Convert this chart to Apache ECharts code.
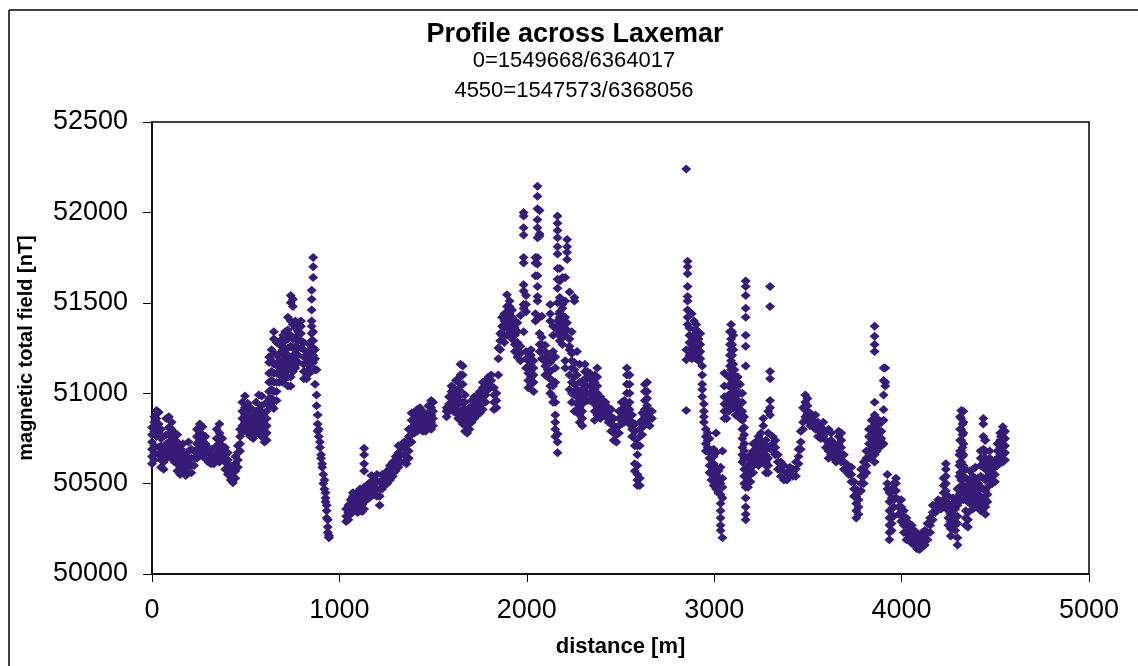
<!DOCTYPE html>
<html>
<head>
<meta charset="utf-8">
<title>Profile across Laxemar</title>
<script src="https://cdn.jsdelivr.net/npm/echarts@6/dist/echarts.min.js"></script>
<style>
  html, body { margin: 0; padding: 0; background: #fff; }
  #chart { width: 1138px; height: 666px; }
</style>
</head>
<body>
<div id="chart"></div>
<script>
// readings, one row of field values per distance
const xTicks = [0, 1000, 2000, 3000, 4000, 5000];
const yTicks = [50000, 50500, 51000, 51500, 52000, 52500];

// 0 - 1000 m
const distA = [0,12,24,36,48,62,76,90,105,120,135,150,165,180,195,210,225,240,255,270,285,300,315,330,345,360,375,390,405,420,432,445,458,470,482,496,510,525,540,555,570,585,600,612,625,638,650,665,680,695,710,725,740,752,765,780,795,810,825,840,852,860,870,878,884,890,896,902,908,914,920,926,932,938,944];
const fieldA = [
  [50610,50650,50690,50730,50770,50810],
  [50630,50670,50710,50790,50840,50870],
  [50760,50810,50860,50905],
  [50660,50700,50780,50830,50895],
  [50590,50630,50670,50710,50750,50800],
  [50580,50620,50660,50700],
  [50640,50680,50720,50770,50860],
  [50650,50690,50730,50770,50810,50870],
  [50640,50680,50720,50760,50800,50840],
  [50620,50660,50700,50740,50780],
  [50570,50610,50650,50690,50730,50770],
  [50550,50590,50630,50670,50710],
  [50560,50600,50640,50680,50720],
  [50545,50585,50625,50665],
  [50560,50600,50640,50680,50730],
  [50560,50600,50640,50690],
  [50600,50640,50680],
  [50640,50680,50720,50760,50800],
  [50660,50700,50740,50780,50830],
  [50650,50690,50730,50770,50815],
  [50640,50680,50720,50760],
  [50620,50660,50700],
  [50610,50650,50690],
  [50610,50650],
  [50630,50670,50710,50750,50800],
  [50620,50660,50700,50740,50780,50830],
  [50630,50670,50710,50750],
  [50580,50620,50660,50700],
  [50550,50590,50630,50670],
  [50520,50560,50600],
  [50505,50540,50580],
  [50530,50570,50610,50650],
  [50590,50630,50670,50710],
  [50680,50720,50760,50800],
  [50780,50820,50860,50900,50950],
  [50800,50840,50880,50920,50985],
  [50780,50820,50860,50900,50945],
  [50760,50800,50840,50880,50920],
  [50750,50790,50830,50870],
  [50780,50820,50860,50900,50950],
  [50790,50830,50870,50910,50990],
  [50760,50800,50840,50880,50930,50985],
  [50730,50770,50810,50850,50890],
  [50740,50780,50820,50860,50900,50950],
  [50930,50970,51010,51060,51110,51170,51200],
  [50930,50970,51020,51070,51120,51180,51240],
  [50915,50960,51010,51060,51110,51160,51220,51300,51340],
  [50960,51010,51060,51110,51160,51210,51280],
  [51060,51100,51140,51180,51220,51270],
  [51060,51100,51140,51180,51220,51260,51300],
  [51080,51120,51160,51200,51240,51290,51340],
  [51040,51090,51130,51170,51210,51250,51300,51350,51420],
  [51040,51090,51140,51200,51260,51320,51400,51500,51540],
  [51120,51160,51200,51250,51300,51380,51480,51520],
  [51140,51180,51220,51260,51310,51360,51400],
  [51170,51210,51250,51290,51340,51390],
  [51250,51290,51330,51370,51400],
  [51080,51120,51160,51200,51240,51280],
  [51080,51120,51170,51210],
  [51110,51150,51190,51230,51270],
  [51170,51210,51250,51290,51330,51370,51400,51460,51520,51570],
  [51640,51700,51750,51170,51210,51250,51290,51340],
  [51050,51130,51190,51240],
  [50990,50930,51130],
  [50790,50830,50880],
  [50760,50800],
  [50700,50730],
  [50640,50660],
  [50590,50610],
  [50550,50500],
  [50470,50520],
  [50420,50450,50400],
  [50350,50380,50310],
  [50260,50300,50230],
  [50200,50215,50205]
];

// 1000 - 1900 m
const distB = [1036,1048,1060,1072,1085,1098,1110,1122,1132,1145,1158,1170,1185,1200,1215,1228,1240,1255,1270,1285,1300,1315,1330,1345,1358,1370,1385,1400,1415,1430,1445,1460,1475,1490,1500,1572,1585,1598,1610,1622,1634,1646,1658,1670,1682,1694,1706,1720,1735,1750,1765,1780,1795,1810,1825,1838,1848,1858,1868];
const fieldB = [
  [50290,50320,50360],
  [50300,50340,50380],
  [50330,50370,50410],
  [50350,50390,50430,50450],
  [50360,50400,50440],
  [50340,50380,50420,50455],
  [50350,50390,50430,50470],
  [50345,50385,50425,50465],
  [50360,50400,50440,50480,50570,50610,50660,50695],
  [50410,50450,50490],
  [50420,50460,50500],
  [50430,50470,50510,50545],
  [50440,50480,50520],
  [50430,50470,50510,50550],
  [50380,50430,50470,50510],
  [50470,50510,50550],
  [50490,50530],
  [50500,50540,50570],
  [50520,50560,50600],
  [50540,50580,50620],
  [50570,50610,50650],
  [50590,50630,50670,50710],
  [50620,50660,50700],
  [50620,50660,50700,50730],
  [50610,50650,50690,50730],
  [50640,50680,50720,50760,50800],
  [50730,50770,50810,50850,50890],
  [50780,50820,50860,50890],
  [50790,50830,50870,50910],
  [50800,50840,50880,50920],
  [50790,50830,50870,50900],
  [50790,50830,50870],
  [50810,50850,50890,50930],
  [50800,50840,50880,50920,50960],
  [50820,50860,50900,50950],
  [50870,50900,50920],
  [50900,50940,50980],
  [50930,50970,51010,51040],
  [50900,50940,50980,51030],
  [50890,50930,50970,51010,51070],
  [50860,50900,50940,50980,51020,51080],
  [50850,50900,50950,51000,51050,51100,51160],
  [50830,50870,50910,50950,51000,51050,51100,51150],
  [50790,50830,50870,50910,50950,50990],
  [50780,50820,50860,50900],
  [50800,50840,50880,50920],
  [50840,50880,50920,50960],
  [50860,50900,50940,50980],
  [50880,50920,50960,50990],
  [50890,50930,50970,51010],
  [50910,50950,50990,51030,51060],
  [50950,50990,51030,51070],
  [51020,51060,51090],
  [51040,51070,51100],
  [50910,50950,50990,51030],
  [50920,50960,51000],
  [51100,51190,51250],
  [51240,51290,51330],
  [51320,51370,51420]
];

// 1880 - 2680 m
const distC = [1880,1894,1908,1922,1936,1950,1966,1983,1996,2008,2022,2036,2046,2057,2068,2080,2098,2112,2125,2140,2152,2164,2176,2190,2205,2215,2228,2240,2254,2268,2282,2296,2310,2322,2336,2350,2362,2376,2392,2406,2420,2436,2450,2464,2478,2492,2506,2520,2534,2548,2562,2576,2590,2603,2616,2630,2642,2656,2668];
const fieldC = [
  [51280,51320,51360,51400,51440],
  [51320,51360,51400,51440,51480,51545],
  [51320,51360,51400,51440,51480,51510],
  [51300,51340,51380,51420,51460],
  [51230,51270,51320,51360,51400],
  [51200,51240,51280,51340,51390],
  [51180,51220,51260,51430],
  [52000,51980,51915,51875,51750,51720,51600,51565,51490,51470,51340],
  [51140,51190,51230,51450,51540,51490],
  [51030,51070,51110,51150,51190],
  [51050,51090,51130,51170,51210,51240],
  [51010,51060,51100,51140,51180],
  [51720,51750,51650,51400,51440],
  [52145,52090,52020,51960,51915,51860,51750,51715,51650,51590,51535,51510,51410],
  [51330,51270,51230,52010,51880,51870],
  [51190,51230,51270,51310,51425],
  [51100,51150,51190,51230,51265,51175],
  [51090,51130,51170,51210],
  [51000,51040,51080,51120,51170,51490,51440,51400],
  [50950,50980,51040,51190,51230,51320,51370],
  [50760,50800,50840,50880,50950,51060,51140,51200],
  [50670,50730,50775,51980,51940,51900,51860,51810,51770,51690,51630,51580,51500,51400,51350],
  [51290,51340,51380,51420,51450,51530,51620,51690],
  [51270,51310,51350,51390,51430,51470,51640,51490],
  [51140,51180,51340,51380,51420,51510,51640],
  [51850,51810,51780,51740,51390,51350,51310],
  [51240,51260,51100,51020,51560,51300],
  [51220,51180,51340,51140,51060,50950,51000],
  [51530,51510,51090,51130,51170,51050,50990,50900],
  [50900,50940,50980,51020,51100,51230],
  [50840,50880,50920,50960,51000,51060,51160],
  [50820,50860,50900,50940,50980,51020],
  [51000,51040,51080,51120,51160],
  [50960,51000,51040,51080,51120],
  [50960,51000,51040,51080,51110],
  [50960,51000,51040],
  [50850,50900,50940,50980,51020,51060,51100],
  [50880,50920,50960,51000,51040,51090,51140],
  [50860,50900,50940,50980],
  [50880,50920,50960],
  [50870,50910,50950],
  [50840,50880,50920],
  [50790,50830,50870,50910],
  [50740,50780,50820,50860],
  [50730,50770,50810],
  [50780,50820,50860,50900],
  [50830,50870,50910,50950],
  [50840,50880,50920,50960],
  [50850,50890,50930,51000,51050,51100,51140],
  [50830,50870,50910,50950,51000,51050,51100],
  [50760,50800,50840,50880],
  [50710,50750,50790,50830,50610,50570],
  [50520,50490,50550,50600,50660,50710,50750],
  [50490,50530,50710,50760,50800,50840],
  [50770,50810,50850,50890],
  [50830,50870,50910,50960,51010,51050],
  [50850,50890,50930,50970,51010,51060],
  [50820,50860,50900],
  [50860,50900]
];

// 2840 - 3500 m
const distD = [2851,2858,2868,2880,2892,2904,2916,2926,2936,2945,2955,2965,2975,2985,2997,3010,3022,3034,3044,3054,3066,3078,3090,3102,3114,3126,3138,3150,3160,3168,3180,3194,3208,3222,3236,3250,3262,3276,3288,3298,3312,3326,3340,3356,3372,3388,3404,3420,3436,3450,3462,3474,3486,3498];
const fieldD = [
  [52240,50905,51185,51240],
  [51730,51700,51660,51590,51535,51510,51460,51420,51380],
  [51280,51240,51210,51320,51360],
  [51190,51230,51270,51310,51440],
  [51200,51240,51280,51320,51400],
  [51190,51230,51270,51310,51350,51380],
  [51180,51220,51260,51300,51340],
  [51190,51230,51270,51330],
  [51150,51100,51050,51020,50980],
  [50940,50900,50870,50840],
  [50800,50760,50720,50680],
  [50780,50740,50700],
  [50670,50640,50600,50560,50750],
  [50640,50600,50560,50520],
  [50490,50530,50570,50610,50650,50690],
  [50470,50510,50550,50590,50670,50780],
  [50450,50490,50530,50570],
  [50240,50270,50310,50350,50390,50440,50500,50590],
  [50200,50420,50480,50530,50680],
  [50860,50900,50940,50980,51040,51110],
  [50860,50900,50940,50980],
  [50900,50940,50990,51040,51090],
  [50960,51000,51040,51080,51130,51180,51240,51300,51380],
  [50920,50960,51000,51040,51100,51160,51240,51320],
  [50880,50920,50960,51000,51040,51090],
  [50880,50920,50960,51000,51040,51090],
  [50860,50900,50940,51000,51050],
  [50620,50660,50700,50750,50800,50850,50900,50950,51000],
  [50500,50540,50580,50640,50680,50720,50770,50810,50870],
  [51620,51590,51540,51470,51420,51320,51260,51150,50300,50330,50370,50420,50480],
  [50480,50520,50560,50600,50640],
  [50510,50550,50590,50630,50660],
  [50560,50600,50640,50680,50720],
  [50610,50650,50690,50730],
  [50600,50640,50680,50720,50760],
  [50620,50660,50700,50740,50780],
  [50640,50680,50720,50820,50860],
  [50620,50560,50600,50660,50700,50740],
  [50560,50600,50640,50700,50780,50900],
  [51590,51480,51120,51080,50960,50920,50880],
  [50680,50720,50760],
  [50660,50700,50740],
  [50580,50620,50660],
  [50540,50580,50620],
  [50520,50560,50600],
  [50520,50560],
  [50550,50590],
  [50540,50580],
  [50540,50580,50620],
  [50610,50650,50690],
  [50690,50730,50790],
  [50800,50840,50920],
  [50870,50910,50950,50990],
  [50850,50890,50930,50970]
];

// 3500 - 4560 m
const distE = [3512,3526,3540,3554,3568,3582,3596,3610,3624,3638,3650,3664,3678,3692,3704,3718,3732,3746,3758,3770,3784,3798,3812,3826,3840,3856,3868,3880,3892,3904,3913,3924,3935,3947,3958,3970,3984,3998,4012,4026,4040,4054,4068,4082,4096,4110,4124,4138,4152,4166,4180,4195,4210,4224,4236,4250,4262,4274,4286,4298,4308,4318,4330,4342,4354,4366,4380,4394,4408,4422,4436,4447,4458,4470,4484,4498,4512,4526,4540,4552];
const fieldE = [
  [50820,50860,50890],
  [50830,50870],
  [50800,50840,50880],
  [50760,50800,50840],
  [50750,50790,50830],
  [50760,50800,50840],
  [50700,50740,50780],
  [50640,50680,50720,50800],
  [50660,50700,50740,50780],
  [50640,50680,50720],
  [50620,50660,50700],
  [50640,50680,50720,50760,50790],
  [50620,50660,50700,50740,50780],
  [50580,50620,50660],
  [50570,50610],
  [50550,50590],
  [50510,50550,50590],
  [50430,50470,50510],
  [50310,50350,50390,50430,50470],
  [50330,50370,50410,50450],
  [50460,50500,50540,50580],
  [50500,50540,50580,50620],
  [50560,50600,50640,50680],
  [50640,50680,50720,50760,50800],
  [50650,50690,50730,50770,50810,50850],
  [51370,51315,51270,51230,50950,50880,50840,50800,50760,50720,50660,50620],
  [50680,50720,50760,50800,50840],
  [50700,50740,50780,50850,50830],
  [50710,50750,50790,50840],
  [50720,51140,51070,50990,50910,50850],
  [51140,51060,51040],
  [50550,50500,50470],
  [50190,50230,50270,50310,50350,50400,50450],
  [50240,50280,50320,50360,50420,50470],
  [50320,50370,50410,50460,50500],
  [50420,50460,50500,50530],
  [50330,50370,50410],
  [50290,50330,50370,50410],
  [50230,50270,50310,50350],
  [50190,50230,50270,50310],
  [50200,50240,50280],
  [50170,50210,50250,50270],
  [50160,50200,50240],
  [50140,50180,50220],
  [50135,50170,50210],
  [50150,50190,50230],
  [50160,50200,50240],
  [50190,50230,50280],
  [50230,50270,50310],
  [50300,50340,50380],
  [50340,50380],
  [50370,50410],
  [50360,50400],
  [50370,50410,50450,50490,50530],
  [50460,50500,50540,50580,50610],
  [50270,50310,50350,50390,50430],
  [50210,50250,50290,50330,50370],
  [50250,50290,50330,50370,50420],
  [50240,50280,50320,50360,50400],
  [50160,50200,50280,50320,50380,50420,50470],
  [50400,50440,50480,50540,50600,50660],
  [50480,50520,50560,50620,50680,50740,50800,50860,50905],
  [50410,50450,50490,50540,50600,50660,50720,50780,50840,50900],
  [50270,50310,50350,50410,50470,50530,50580],
  [50260,50300,50340,50400,50440,50490],
  [50390,50430,50470,50510,50570],
  [50360,50410,50450,50490,50540,50580],
  [50370,50410,50450,50490,50530,50590],
  [50380,50420,50460,50500,50530],
  [50350,50390,50430,50480,50540,50600,50640,50680],
  [50470,50530,50590,50640,50690,50760,50830,50860],
  [50330,50370,50410,50460,50520,50580,50640,50680,50740],
  [50400,50440,50480,50540,50600],
  [50520,50560,50600,50640,50680],
  [50500,50540,50580,50620],
  [50510,50550,50590,50630],
  [50600,50640,50680,50720],
  [50620,50660,50700,50740,50780],
  [50620,50660,50700,50740,50780,50815],
  [50630,50670,50710,50750,50790]
];

// extra readings where the blobs are solid in the picture
const distF = [700,1890,1905,2172,2192,2897,2912,3084,3096,3108,3860,4312,4325,4445,4530];
const fieldF = [
  [51180,51240,51320],
  [51380,51420],
  [51380,51420,51460],
  [51320,51360,51400,51440],
  [51310,51370,51410],
  [51250,51350],
  [51240,51280],
  [51150,51210,51270,51340],
  [51060,51110,51160,51210,51270,51340],
  [50980,51020,51070,51130],
  [50740,50780,50820,50860],
  [50560,50620,50680,50740,50800,50870],
  [50600,50650,50700,50770,50830],
  [50620,50680,50740],
  [50680,50720,50760]
];

function toPoints(dist, field) {
  const pts = [];
  dist.forEach((d, i) => {
    field[i].forEach((v) => pts.push([d, v]));
  });
  return pts;
}

const points = [].concat(
  toPoints(distA, fieldA),
  toPoints(distB, fieldB),
  toPoints(distC, fieldC),
  toPoints(distD, fieldD),
  toPoints(distE, fieldE),
  toPoints(distF, fieldF)
);

const font = "'Liberation Sans', Arial, sans-serif";
const chart = echarts.init(document.getElementById("chart"), null, { renderer: "canvas" });
chart.setOption({
  animation: false,
  backgroundColor: "#fff",
  title: [
    { text: "Profile across Laxemar", left: 570, top: 16, textAlign: "center", textStyle: { fontFamily: font, fontSize: 27, fontWeight: "bold", color: "#000" } },
    { text: "0=1549668/6364017", left: 569, top: 45, textAlign: "center", textStyle: { fontFamily: font, fontSize: 22, fontWeight: "normal", color: "#000" } },
    { text: "4550=1547573/6368056", left: 569, top: 75, textAlign: "center", textStyle: { fontFamily: font, fontSize: 22, fontWeight: "normal", color: "#000" } }
  ],
  grid: { left: 152, right: 49, top: 122, bottom: 92, show: true, borderColor: "#000", borderWidth: 1.5, backgroundColor: "#fff" },
  xAxis: {
    type: "value",
    min: xTicks[0],
    max: xTicks[xTicks.length - 1],
    interval: 1000,
    name: "distance [m]",
    nameLocation: "middle",
    nameGap: 62,
    nameTextStyle: { fontFamily: font, fontSize: 22, fontWeight: "bold", color: "#000" },
    splitLine: { show: false },
    axisLine: { lineStyle: { color: "#000", width: 1.5 } },
    axisTick: { length: 8, lineStyle: { color: "#000" } },
    axisLabel: { fontFamily: font, fontSize: 27, color: "#000", margin: 23, formatter: (v) => String(v) }
  },
  yAxis: {
    type: "value",
    min: yTicks[0],
    max: yTicks[yTicks.length - 1],
    interval: 500,
    name: "magnetic total field [nT]",
    nameLocation: "middle",
    nameGap: 116,
    nameTextStyle: { fontFamily: font, fontSize: 20, fontWeight: "bold", color: "#000" },
    splitLine: { show: false },
    axisLine: { show: true, lineStyle: { color: "#000", width: 1.5 } },
    axisTick: { show: true, length: 9, lineStyle: { color: "#000" } },
    axisLabel: { fontFamily: font, fontSize: 27, color: "#000", margin: 24, formatter: (v) => String(v) }
  },
  series: [
    {
      type: "scatter",
      data: points,
      symbol: "diamond",
      symbolSize: [10, 9],
      itemStyle: { color: "#361c76", opacity: 1 },
      silent: true
    }
  ],
  graphic: [
    // outer chart frame, only top and left fall inside the picture
    { type: "line", shape: { x1: 9, y1: 10, x2: 1138, y2: 10 }, style: { stroke: "#000", lineWidth: 1.5 } },
    { type: "line", shape: { x1: 9, y1: 10, x2: 9, y2: 666 }, style: { stroke: "#000", lineWidth: 1.5 } }
  ]
});
</script>
</body>
</html>
